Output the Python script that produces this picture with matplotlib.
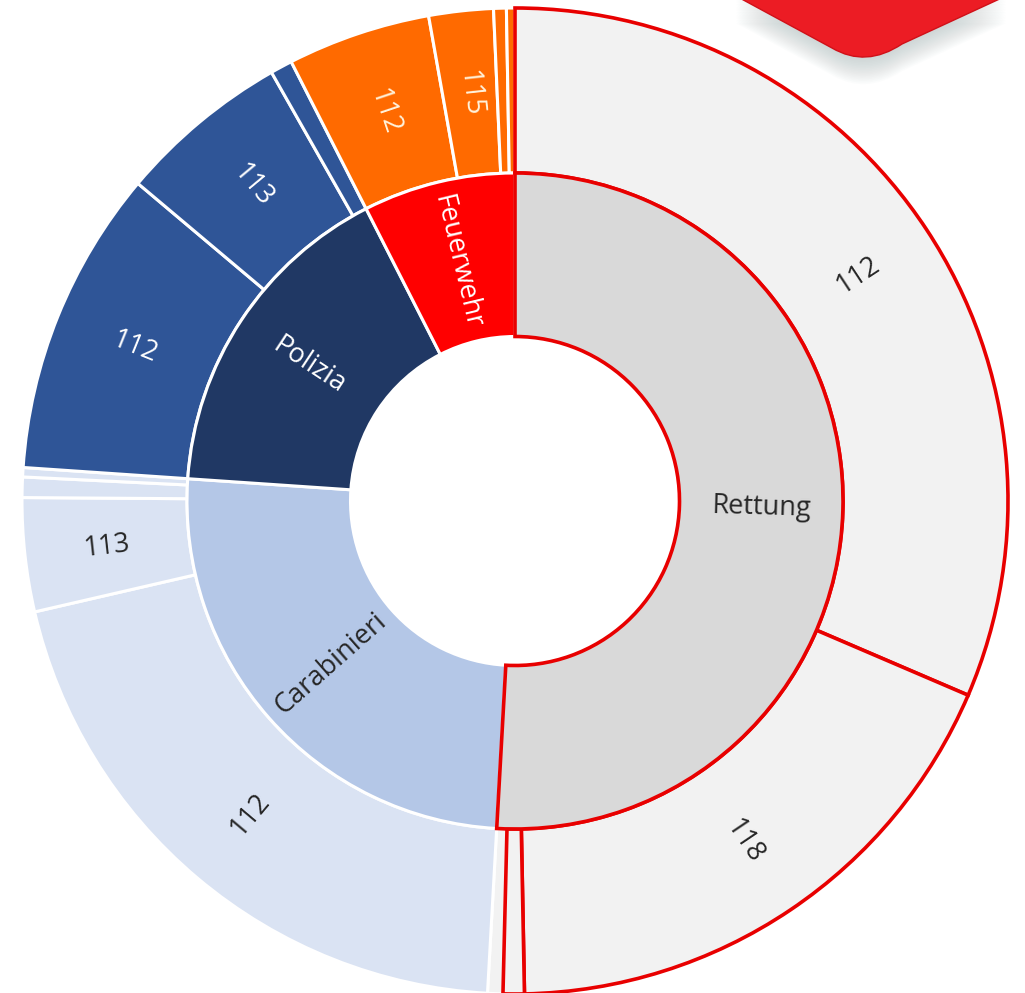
import numpy as np
import matplotlib
matplotlib.use("Agg")
import matplotlib.pyplot as plt
from matplotlib.path import Path
from matplotlib.patches import PathPatch

# Inner ring: services (share of the circle, degrees)
inner_labels = ['Rettung', 'Carabinieri', 'Polizia', 'Feuerwehr']
inner_values = [183.2, 90.7, 59.1, 27.0]
inner_colors = ['#d9d9d9', '#b4c7e7', '#203864', '#ff0000']
inner_text = ['#262626', '#262626', 'white', 'white']

# Outer ring: numbers called, grouped by service
outer_group = ['Rettung'] * 4 + ['Carabinieri'] * 4 + ['Polizia'] * 3 + ['Feuerwehr'] * 4
outer_labels = ['112', '118', '', '',
                '112', '113', '', '',
                '112', '113', '',
                '112', '115', '', '']
outer_values = [113.2, 65.7, 2.5, 1.8,
                73.8, 13.4, 2.4, 1.1,
                36.2, 20.3, 2.6,
                16.9, 7.6, 1.5, 1.0]

group_color = {'Rettung': '#f2f2f2', 'Carabinieri': '#dae3f3',
               'Polizia': '#2f5597', 'Feuerwehr': '#ff6a00'}
group_text = {'Rettung': '#262626', 'Carabinieri': '#262626',
              'Polizia': 'white', 'Feuerwehr': '#fff3dc'}

RED = '#e80000'
W, H = 1025, 993
CX, CY, R = 515, 501, 493          # pixel centre and outer radius
R_MID, R_HOLE = 328 / R, 164.5 / R


def px(x, y):
    # pixel coords (from top-left) -> data coords
    return (x - CX) / R, (CY - y) / R


def add_labels(ax, values, labels, colors, r_in, r_out):
    start = 0.0
    for v, lab, c in zip(values, labels, colors):
        mid = start + v / 2
        start += v
        if not lab:
            continue
        ang = 90 - mid
        rm = (r_in + r_out) / 2
        x, y = rm * np.cos(np.radians(ang)), rm * np.sin(np.radians(ang))
        rot = (ang + 90) % 180 - 90
        ax.text(x, y, lab, ha='center', va='center', rotation=rot,
                rotation_mode='anchor', fontsize=19.5, color=c,
                family=['Open Sans', 'DejaVu Sans'], zorder=10)


fig = plt.figure(figsize=(W / 100, H / 100), dpi=100)
ax = fig.add_axes([0, 0, 1, 1])

# decorative red badge peeking in at the top right (with soft shadow)
verts = [px(736, -4), px(832, 48), px(866, 68), px(902, 44), px(1006, -4), px(736, -4)]
codes = [Path.MOVETO, Path.LINETO, Path.CURVE3, Path.CURVE3, Path.LINETO, Path.CLOSEPOLY]
for k in range(1, 18):
    off = k * 1.6 / R
    sv = [(x, y - off) for x, y in verts]
    ax.add_patch(PathPatch(Path(sv, codes), facecolor='#9aabab', edgecolor='none',
                           alpha=0.03, zorder=1))
ax.add_patch(PathPatch(Path(verts, codes), facecolor='#ec1c24', edgecolor='#d01018',
                       lw=1, zorder=2))

# outer ring
outer_colors = [group_color[g] for g in outer_group]
wedges_out, _ = ax.pie(outer_values, radius=1.0, startangle=90, counterclock=False,
                       colors=outer_colors,
                       wedgeprops=dict(width=1.0 - R_MID, edgecolor='white', linewidth=2.2))
for i, (w, g) in enumerate(zip(wedges_out, outer_group)):
    w.set_zorder(3)
    if g == 'Rettung' and i != 3:
        w.set_edgecolor(RED)
        w.set_linewidth(2.6)
        w.set_zorder(5)

# inner ring
wedges_in, _ = ax.pie(inner_values, radius=R_MID, startangle=90, counterclock=False,
                      colors=inner_colors,
                      wedgeprops=dict(width=R_MID - R_HOLE, edgecolor='white', linewidth=2.2))
for w, lab in zip(wedges_in, inner_labels):
    w.set_zorder(3)
    if lab == 'Rettung':
        w.set_edgecolor(RED)
        w.set_linewidth(2.6)
        w.set_zorder(6)

add_labels(ax, outer_values, outer_labels, [group_text[g] for g in outer_group], R_MID, 1.0)
add_labels(ax, inner_values, inner_labels, inner_text, R_HOLE, R_MID)

ax.set_xlim(-CX / R, (W - CX) / R)
ax.set_ylim(-(H - CY) / R, CY / R)
ax.set_aspect('auto')
ax.axis('off')

fig.savefig('out.png', dpi=100, facecolor='white')
